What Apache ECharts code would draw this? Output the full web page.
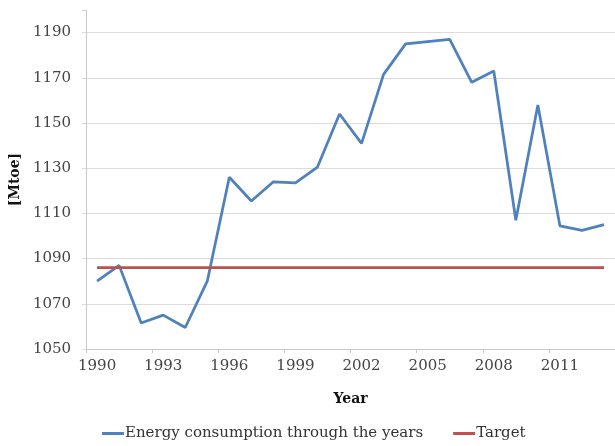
<!DOCTYPE html>
<html>
<head>
<meta charset="utf-8">
<script src="https://cdn.jsdelivr.net/npm/echarts@6/dist/echarts.min.js"></script>
<style>
  html, body { margin: 0; padding: 0; background: #fff; }
  #main { width: 615px; height: 446px; }
</style>
</head>
<body>
<div id="main"></div>
<script>
// years on the x axis
var years = ['1990','1991','1992','1993','1994','1995','1996','1997','1998','1999','2000','2001',
             '2002','2003','2004','2005','2006','2007','2008','2009','2010','2011','2012','2013'];
// energy consumption [Mtoe]
var consumption = [1080, 1087, 1061.5, 1065, 1059.5, 1080, 1126, 1115.5, 1124, 1123.5, 1130.5, 1154,
                   1141, 1171.5, 1185, 1186, 1187, 1168, 1173, 1107, 1158, 1104.5, 1102.5, 1105];
// target level
var targetValue = 1086;
var target = years.map(function () { return targetValue; });

var font = 'DejaVu Serif';
var grey = '#dcdcdc';
var chart = echarts.init(document.getElementById('main'));

var option = {
  animation: false,
  textStyle: { fontFamily: font },
  grid: { left: 86, top: 10, width: 533, bottom: 97 },
  legend: {
    bottom: 0,
    left: 97,
    itemWidth: 22,
    itemHeight: 3,
    itemGap: 30,
    icon: 'rect',
    textStyle: { fontFamily: font, fontSize: 15, color: '#333', padding: [0, 0, 0, -4] },
    data: ['Energy consumption through the years', 'Target']
  },
  xAxis: {
    type: 'category',
    data: years,
    boundaryGap: true,
    name: 'Year',
    nameLocation: 'middle',
    nameGap: 43,
    nameTextStyle: { fontFamily: font, fontSize: 14, fontWeight: 'bold', color: '#111' },
    axisLine: { lineStyle: { color: '#c8c8c8', width: 1 } },
    axisTick: { show: true, interval: 2, length: 4, lineStyle: { color: '#c8c8c8' } },
    axisLabel: { interval: 2, margin: 10, fontFamily: font, fontSize: 15, color: '#444' },
    splitLine: { show: false }
  },
  yAxis: {
    type: 'value',
    min: 1050,
    max: 1200,
    interval: 20,
    name: '[Mtoe]',
    nameLocation: 'middle',
    nameRotate: 90,
    nameGap: 63,
    nameTextStyle: { fontFamily: font, fontSize: 14, fontWeight: 'bold', color: '#111' },
    axisLine: { show: true, lineStyle: { color: '#c8c8c8', width: 1 } },
    axisTick: { show: true, length: 4, lineStyle: { color: '#d9d9d9' } },
    axisLabel: {
      margin: 15, fontFamily: font, fontSize: 15, color: '#444',
      formatter: function (v) { return v > 1190 ? '' : String(v); }
    },
    // no grid line at the top (1200)
    splitLine: { lineStyle: { color: [grey, grey, grey, grey, grey, grey, grey, grey, 'rgba(0,0,0,0)'], width: 1 } }
  },
  series: [
    {
      name: 'Energy consumption through the years',
      type: 'line',
      data: consumption,
      showSymbol: false,
      symbol: 'none',
      itemStyle: { color: '#4f81bd' },
      lineStyle: { color: '#4f81bd', width: 2.75 }
    },
    {
      name: 'Target',
      type: 'line',
      data: target,
      showSymbol: false,
      symbol: 'none',
      itemStyle: { color: '#c0504d' },
      lineStyle: { color: '#c0504d', width: 2.75 }
    }
  ]
};

chart.setOption(option);
</script>
</body>
</html>
